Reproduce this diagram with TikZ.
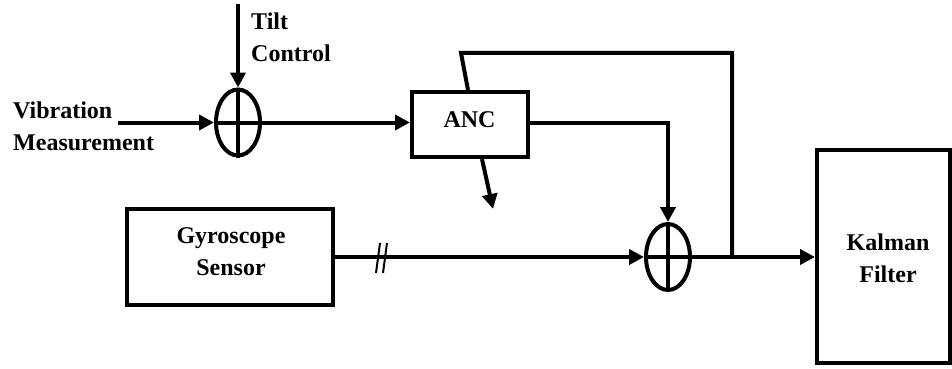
\documentclass[tikz,border=0pt]{standalone}
\usepackage{fontspec}
\setmainfont{Liberation Serif}
\usetikzlibrary{arrows.meta,shapes.geometric,calc}

\tikzset{
  wire/.style={line width=4pt, line join=miter},
  arr/.style={wire, -{Triangle[length=15pt,width=15pt]}},
  blockbox/.style={draw, line width=4pt, rectangle, inner sep=0pt},
  summer/.style={draw, line width=4pt, ellipse, inner sep=0pt,
                 minimum width=44pt, minimum height=66pt},
  lbl/.style={inner sep=0pt, font=\bfseries\fontsize{24}{32}\selectfont},
}

\begin{document}
\begin{tikzpicture}[x=1pt, y=-1pt]
  \useasboundingbox (0,0) rectangle (952,369);

  % blocks
  \node[blockbox, minimum width=116pt, minimum height=65pt] (anc) at (470,124.5) {};
  \node[blockbox, minimum width=206pt, minimum height=96pt] (gyro) at (230,257) {};
  \node[blockbox, minimum width=133pt, minimum height=213pt] (kalman) at (883.5,256.5) {};

  % block labels
  \node[lbl] (anct) at (469.5,120) {ANC};
  \node[lbl, align=center] (gyrot) at (231,252) {Gyroscope\\Sensor};
  \node[lbl, align=center] (kalmant) at (888,258) {Kalman\\Filter};

  % summing junctions
  \node[summer] (sum1) at (238,122.5) {};
  \node[summer] (sum2) at (668,257) {};
  \foreach \s in {sum1,sum2}{
    \draw[wire] (\s.north) -- (\s.south);
    \draw[wire] (\s.west) -- (\s.east);
  }

  % input labels
  \node[lbl, align=left, anchor=north west] (tilt) at (251,12.8) {Tilt\\Control};
  \node[lbl, align=left, anchor=north west] (vib) at (13,101.8) {Vibration\\Measurement};

  % free ends and bends
  \coordinate (tilttop) at (238,4);
  \coordinate (vibin) at (118,122.5);
  \coordinate (ancout) at (493,209);
  \coordinate (fbtop) at (461,53);
  \coordinate (junc) at (732,257);

  % signal paths
  \draw[arr] (tilttop) -- (sum1.north);
  \draw[arr] (vibin) -- (sum1.west);
  \draw[arr] (sum1.east) -- (sum1.east -| anc.west);
  \draw[arr] (anc.east |- sum1.center) -| (sum2.north);
  \draw[arr] ([xshift=12pt]anc.south) -- (ancout);
  \draw[arr] (gyro.east |- sum2.center) -- (sum2.west);
  \draw[arr] (sum2.east) -- (sum2.east -| kalman.west);
  \draw[wire] (junc) |- (fbtop) -- ([xshift=-2pt]anc.north);

  % bus marks on the gyroscope line
  \draw[line width=2pt] (380,243) -- (376,273);
  \draw[line width=2pt] (387,243) -- (383,273);
\end{tikzpicture}
\end{document}
